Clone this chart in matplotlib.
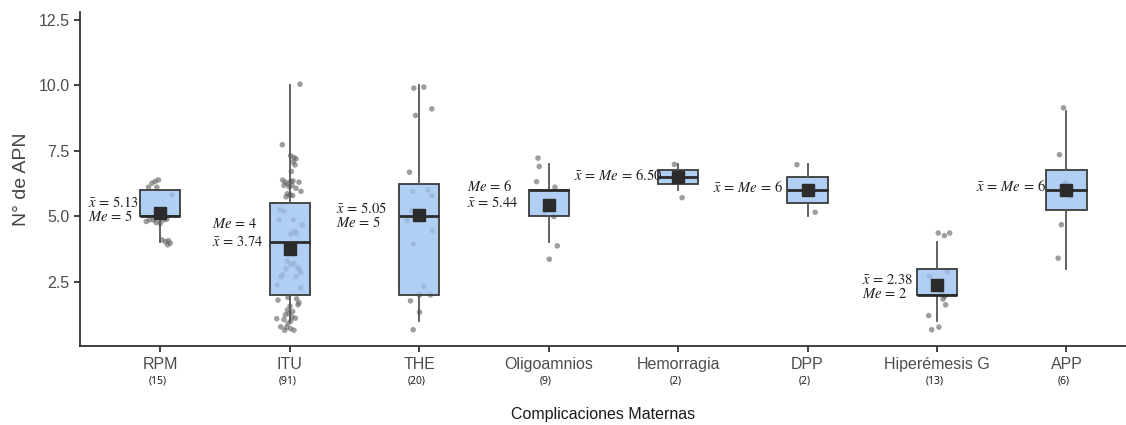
import numpy as np
import matplotlib
matplotlib.use("Agg")
import matplotlib.pyplot as plt

# --- data ---
groups = ["RPM", "ITU", "THE", "Oligoamnios", "Hemorragia", "DPP", "Hiperémesis G", "APP"]
counts = [15, 91, 20, 9, 2, 2, 13, 6]

q1 = [5.0, 2.0, 2.0, 5.0, 6.25, 5.5, 2.0, 5.25]
med = [5.0, 4.0, 5.0, 6.0, 6.5, 6.0, 2.0, 6.0]
q3 = [6.0, 5.5, 6.25, 6.0, 6.75, 6.5, 3.0, 6.75]
whislo = [4.0, 1.0, 1.0, 4.0, 6.0, 5.0, 1.0, 3.0]
whishi = [6.0, 10.0, 10.0, 7.0, 7.0, 7.0, 4.0, 9.0]
means = [5.13, 3.74, 5.05, 5.44, 6.50, 6.0, 2.38, 6.0]

# jittered points: (horizontal jitter, value)
pts_rpm = [(-.064, 6.26), (-.039, 6.33), (-.013, 6.39), (-.026, 6.11), (-.09, 6.11),
           (.09, 5.82), (-.108, 4.80), (-.082, 4.86), (-.051, 4.86), (-.031, 4.76),
           (0.0, 4.73), (.026, 4.86), (.051, 4.89), (.013, 4.10), (.039, 4.03),
           (.064, 4.07), (.077, 3.97), (.057, 3.91)]
pts_itu = [(.08, 10.04), (-.057, 7.73), (.008, 7.31), (.033, 7.24), (.049, 7.19),
           (.026, 7.07), (.041, 6.96), (.013, 6.71), (-.054, 6.38), (-.033, 6.30),
           (-.010, 6.23), (.008, 6.33), (.026, 6.35), (.072, 6.30), (-.044, 6.18),
           (-.003, 6.12), (.018, 6.18), (.049, 6.07), (.087, 5.95), (-.018, 5.86),
           (.003, 5.82), (.023, 5.79), (-.028, 5.74), (-.075, 5.25), (-.044, 5.18),
           (-.08, 4.87), (.028, 4.87), (.098, 4.67), (.033, 4.42), (.008, 4.32),
           (.054, 4.36), (-.018, 3.28), (.008, 3.15), (.033, 3.21), (.059, 3.05),
           (.075, 2.96), (.085, 2.83), (-.028, 2.99), (-.054, 2.77), (-.069, 2.69),
           (.049, 2.69), (-.095, 2.38), (.085, 2.26), (-.09, 1.80), (-.013, 1.90),
           (.054, 1.85), (.072, 1.70), (.003, 1.57), (.064, 1.62), (-.018, 1.42),
           (.023, 1.37), (-.003, 1.29), (-.033, 1.24), (.018, 1.16), (.044, 1.11),
           (-.10, 1.09), (-.044, 1.06), (.008, 0.99), (-.013, 0.91), (-.069, 0.78),
           (-.023, 0.76), (.008, 0.71), (-.039, 0.65), (.033, 0.65)]
pts_the = [(-.041, 9.89), (.036, 9.93), (-.028, 8.85), (.098, 9.10), (-.075, 6.68),
           (-.049, 5.95), (.067, 6.00), (.098, 5.79), (-.057, 5.21), (-.093, 4.83),
           (.103, 4.45), (-.044, 3.94), (.036, 2.33), (.003, 2.00), (.087, 2.00),
           (-.067, 1.77), (.003, 1.34), (-.046, 0.67)]
pts_oli = [(-.082, 7.22), (-.072, 6.90), (-.093, 6.32), (.049, 6.11), (-.036, 5.18),
           (.041, 4.99), (.067, 3.87), (.005, 3.36)]
pts_hem = [(-.028, 6.98), (.031, 5.71)]
pts_dpp = [(-.082, 6.97), (.059, 5.15)]
pts_hip = [(.010, 4.36), (.057, 4.26), (.098, 4.36), (-.057, 2.70), (.08, 2.89),
           (.036, 2.07), (.059, 1.94), (.046, 1.84), (.067, 1.62), (-.064, 1.21),
           (-.041, 0.67), (.015, 0.77)]
pts_app = [(-.023, 9.14), (-.054, 7.35), (-.01, 6.27), (.031, 5.76), (-.039, 4.68),
           (-.064, 3.40)]
points = [pts_rpm, pts_itu, pts_the, pts_oli, pts_hem, pts_dpp, pts_hip, pts_app]

# annotation text per group: (lines, x offset from group, y values)
notes = [
    ([r"$\bar{x}\,=\,5.13$", r"$Me\,=\,5$"], -0.556, [5.51, 4.98]),
    ([r"$Me\,=\,4$", r"$\bar{x}\,=\,3.74$"], -0.60, [4.71, 4.03]),
    ([r"$\bar{x}\,=\,5.05$", r"$Me\,=\,5$"], -0.642, [5.29, 4.75]),
    ([r"$Me\,=\,6$", r"$\bar{x}\,=\,5.44$"], -0.631, [6.13, 5.51]),
    ([r"$\bar{x}\,=\,Me\,=\,6.50$"], -0.806, [6.55]),
    ([r"$\bar{x}\,=\,Me\,=\,6$"], -0.733, [6.09]),
    ([r"$\bar{x}\,=\,2.38$", r"$Me\,=\,2$"], -0.583, [2.58, 2.04]),
    ([r"$\bar{x}\,=\,Me\,=\,6$"], -0.695, [6.13]),
]

plt.rcParams["font.family"] = ["Liberation Sans", "DejaVu Sans"]
plt.rcParams["mathtext.fontset"] = "stix"

fig = plt.figure(figsize=(11.26, 4.25), dpi=100)
ax = fig.add_axes([0.071, 0.186, 0.929, 0.786])

pos = np.arange(1, len(groups) + 1)

for i, pts in enumerate(points):
    dx = np.array([p[0] for p in pts])
    vals = np.array([p[1] for p in pts])
    ax.scatter(pos[i] + dx, vals, s=16, color="#5e5e5e", alpha=0.6,
               edgecolors="none", zorder=1)

stats = []
for i in range(len(groups)):
    stats.append(dict(q1=q1[i], med=med[i], q3=q3[i], whislo=whislo[i],
                      whishi=whishi[i], mean=means[i], fliers=[]))

ax.bxp(stats, positions=pos, widths=0.31, patch_artist=True, showcaps=False,
       showmeans=True, showfliers=False,
       boxprops=dict(facecolor=(0.62, 0.76, 0.94, 0.8), edgecolor="#3a3a3a", linewidth=1.3),
       medianprops=dict(color="#2b2b2b", linewidth=2.0),
       whiskerprops=dict(color="#555555", linewidth=1.3),
       meanprops=dict(marker="s", markerfacecolor="#2b2b2b", markeredgecolor="#2b2b2b",
                      markersize=8.5),
       zorder=2)

for i, (lines, off, ys) in enumerate(notes):
    for txt, y in zip(lines, ys):
        ax.text(pos[i] + off, y, txt, ha="left", va="center", fontsize=10.5, color="#1e1e1e")

ax.set_xlim(0.38, 8.46)
ax.set_ylim(0.05, 12.8)
ax.set_yticks([2.5, 5.0, 7.5, 10.0, 12.5])
ax.set_yticklabels(["2.5", "5.0", "7.5", "10.0", "12.5"])
ax.set_xticks(pos)
ax.set_xticklabels(groups)

for i, n in enumerate(counts):
    ax.text(pos[i] - 0.02, -0.105, "(%d)" % n, transform=ax.get_xaxis_transform(),
            ha="center", va="center", fontsize=7.5, color="#111111",
            family=["Open Sans", "DejaVu Sans"])

for side in ["top", "right"]:
    ax.spines[side].set_visible(False)
for side in ["left", "bottom"]:
    ax.spines[side].set_color("#333333")
    ax.spines[side].set_linewidth(1.3)

ax.tick_params(axis="both", colors="#333333", length=4, width=1.3, labelsize=11.5,
               labelcolor="#4d4d4d")
ax.tick_params(axis="x", pad=4)

ax.set_ylabel("N° de APN", fontsize=14, color="#444444", labelpad=6)
ax.set_xlabel("Complicaciones Maternas", fontsize=11.5, color="#1a1a1a", labelpad=25)

fig.savefig("out.png", dpi=100)
